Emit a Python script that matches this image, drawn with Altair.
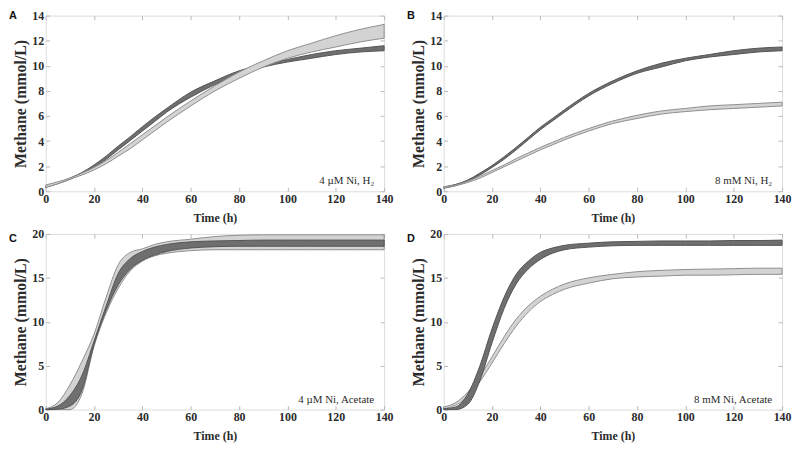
import altair as alt
import pandas as pd

times = [0, 5, 10, 15, 20, 25, 30, 35, 40, 45, 50, 60, 70, 80, 90, 100, 110, 120, 130, 140]

# Panel A: 4 uM Ni, H2
a_dark_lo = [0.3, 0.6, 0.95, 1.4, 1.9, 2.55, 3.3, 4.05, 4.8, 5.55, 6.3, 7.5, 8.5, 9.3, 9.9, 10.3, 10.6, 10.9, 11.1, 11.2]
a_dark_hi = [0.45, 0.7, 1.05, 1.5, 2.1, 2.8, 3.6, 4.35, 5.15, 5.9, 6.6, 7.9, 8.8, 9.6, 10.1, 10.5, 10.9, 11.2, 11.4, 11.6]
a_light_lo = [0.3, 0.6, 0.95, 1.3, 1.7, 2.2, 2.8, 3.4, 4.1, 4.8, 5.5, 6.8, 8.0, 9.0, 9.9, 10.6, 11.1, 11.5, 11.9, 12.2]
a_light_hi = [0.5, 0.75, 1.05, 1.45, 1.9, 2.45, 3.1, 3.8, 4.5, 5.2, 5.9, 7.2, 8.4, 9.5, 10.4, 11.2, 11.8, 12.4, 12.9, 13.3]

# Panel B: 8 mM Ni, H2
b_dark_lo = [0.25, 0.45, 0.8, 1.3, 1.9, 2.55, 3.3, 4.1, 4.9, 5.6, 6.3, 7.6, 8.6, 9.4, 9.9, 10.4, 10.7, 10.9, 11.1, 11.2]
b_dark_hi = [0.35, 0.55, 0.9, 1.45, 2.05, 2.75, 3.5, 4.3, 5.1, 5.8, 6.5, 7.8, 8.8, 9.6, 10.2, 10.6, 10.9, 11.2, 11.4, 11.5]
b_light_lo = [0.25, 0.45, 0.7, 1.05, 1.5, 1.95, 2.4, 2.85, 3.3, 3.7, 4.1, 4.8, 5.4, 5.8, 6.15, 6.35, 6.5, 6.6, 6.7, 6.8]
b_light_hi = [0.35, 0.5, 0.8, 1.2, 1.65, 2.1, 2.6, 3.05, 3.5, 3.9, 4.3, 5.0, 5.6, 6.05, 6.4, 6.6, 6.8, 6.9, 7.0, 7.1]

# Panel C: 4 uM Ni, Acetate
c_dark_lo = [0, 0.05, 0.4, 2.2, 7.4, 11.3, 14.2, 16.0, 17.0, 17.6, 18.0, 18.4, 18.55, 18.6, 18.6, 18.6, 18.6, 18.6, 18.6, 18.6]
c_dark_hi = [0.05, 0.4, 1.6, 3.9, 7.8, 11.8, 15.5, 17.2, 18.0, 18.5, 18.8, 19.1, 19.2, 19.25, 19.3, 19.3, 19.3, 19.3, 19.3, 19.3]
c_light_lo = [0, 0, 0, 1.8, 7.2, 11.0, 13.8, 15.8, 16.9, 17.5, 17.8, 18.1, 18.2, 18.2, 18.2, 18.2, 18.2, 18.2, 18.2, 18.2]
c_light_hi = [0.1, 0.8, 2.8, 5.5, 8.6, 12.8, 16.5, 17.9, 18.3, 18.8, 19.1, 19.4, 19.7, 19.85, 19.9, 19.9, 19.9, 19.9, 19.9, 19.9]

# Panel D: 8 mM Ni, Acetate
d_dark_lo = [0, 0, 0.6, 3.3, 7.6, 11.5, 14.3, 16.0, 17.1, 17.8, 18.2, 18.5, 18.65, 18.7, 18.7, 18.7, 18.7, 18.7, 18.7, 18.7]
d_dark_hi = [0.1, 0.3, 1.8, 5.0, 9.2, 12.8, 15.4, 16.9, 17.9, 18.4, 18.7, 18.95, 19.1, 19.15, 19.2, 19.2, 19.2, 19.25, 19.25, 19.3]
d_light_lo = [0.1, 0.5, 1.5, 3.2, 5.3, 7.5, 9.5, 11.1, 12.3, 13.1, 13.7, 14.4, 14.9, 15.1, 15.2, 15.3, 15.3, 15.35, 15.4, 15.4]
d_light_hi = [0.3, 0.8, 2.0, 3.8, 6.0, 8.3, 10.3, 11.8, 12.9, 13.7, 14.3, 15.0, 15.4, 15.7, 15.85, 15.95, 16.0, 16.05, 16.1, 16.1]

x_ticks = [0, 20, 40, 60, 80, 100, 120, 140]
y_ticks_h2 = [0, 2, 4, 6, 8, 10, 12, 14]
y_ticks_ac = [0, 5, 10, 15, 20]

panels = [
    dict(letter="A", label="4 µM Ni, H₂", yt=y_ticks_h2, dark=(a_dark_lo, a_dark_hi), light=(a_light_lo, a_light_hi), light_top=True, ly=3),
    dict(letter="B", label="8 mM Ni, H₂", yt=y_ticks_h2, dark=(b_dark_lo, b_dark_hi), light=(b_light_lo, b_light_hi), light_top=True, ly=3),
    dict(letter="C", label="4 µM Ni, Acetate", yt=y_ticks_ac, dark=(c_dark_lo, c_dark_hi), light=(c_light_lo, c_light_hi), light_top=False, ly=8),
    dict(letter="D", label="8 mM Ni, Acetate", yt=y_ticks_ac, dark=(d_dark_lo, d_dark_hi), light=(d_light_lo, d_light_hi), light_top=False, ly=8),
]

W, H = 341, 177
SERIF = "Liberation Serif"
TXT = "#2b2b2b"
TICK = "#b8b8b8"


def make_panel(p):
    rows = []
    for s, (lo, hi) in (("dark", p["dark"]), ("light", p["light"])):
        for t, l, h in zip(times, lo, hi):
            rows.append({"t": t, "lo": l, "hi": h, "s": s})
    df = pd.DataFrame(rows)
    yt = p["yt"]
    xs = alt.Scale(domain=[0, 140], nice=False, zero=False)
    ys = alt.Scale(domain=[yt[0], yt[-1]], nice=False, zero=False)
    base = alt.Chart(df)

    def band(s, fill, stroke):
        return base.transform_filter(alt.datum.s == s).mark_area(
            fill=fill, stroke=stroke, strokeWidth=1, interpolate="monotone", opacity=1
        ).encode(
            x=alt.X("t:Q", scale=xs, axis=None),
            y=alt.Y("lo:Q", scale=ys, axis=None),
            y2="hi:Q",
        )

    dark = band("dark", "#6f6f6f", "#545454")
    light = band("light", "#d3d3d3", "#8e8e8e")
    bands = [dark, light] if p["light_top"] else [light, dark]

    labels = base.mark_point(opacity=0).encode(
        x=alt.X("t:Q", scale=xs, axis=alt.Axis(
            orient="bottom", values=x_ticks, ticks=False, domain=False, grid=False,
            labelFont=SERIF, labelFontWeight="bold", labelFontSize=12, labelColor=TXT,
            labelPadding=2, labelFlush=False, labelOverlap=False,
            title="Time (h)", titleFont=SERIF, titleFontWeight="bold", titleFontSize=12,
            titleColor=TXT, titlePadding=8)),
        y=alt.Y("hi:Q", scale=ys, axis=alt.Axis(
            orient="left", values=yt, ticks=False, domain=False, grid=False,
            labelFont=SERIF, labelFontWeight="bold", labelFontSize=12, labelColor=TXT,
            labelPadding=2, labelFlush=False, labelOverlap=False,
            title="Methane (mmol/L)", titleFont=SERIF, titleFontWeight="bold", titleFontSize=16,
            titleColor=TXT, titlePadding=3)),
    )

    ticks_in = base.mark_point(opacity=0).encode(
        x=alt.X("t:Q", scale=xs, axis=alt.Axis(orient="bottom", values=x_ticks, labels=False, domain=False,
                                               grid=False, tickSize=4, offset=-4, tickColor=TICK, title=None)),
        y=alt.Y("hi:Q", scale=ys, axis=alt.Axis(orient="left", values=yt, labels=False, domain=False,
                                                grid=False, tickSize=4, offset=-4, tickColor=TICK, title=None)),
    )
    ticks_out = base.mark_point(opacity=0).encode(
        x=alt.X("t:Q", scale=xs, axis=alt.Axis(orient="top", values=x_ticks, labels=False, domain=False,
                                               grid=False, tickSize=4, offset=-4, tickColor=TICK, title=None)),
        y=alt.Y("hi:Q", scale=ys, axis=alt.Axis(orient="right", values=yt, labels=False, domain=False,
                                                grid=False, tickSize=4, offset=-4, tickColor=TICK, title=None)),
    )

    ann = alt.Chart(pd.DataFrame({"txt": [p["label"]]})).mark_text(
        font=SERIF, fontSize=11, color=TXT, align="right", baseline="alphabetic"
    ).encode(x=alt.value(W - 10), y=alt.value(H - 7), text="txt:N")

    letter = alt.Chart(pd.DataFrame({"txt": [p["letter"]]})).mark_text(
        font="Liberation Sans", fontWeight="bold", fontSize=11, color="#111111",
        align="left", baseline="alphabetic"
    ).encode(x=alt.value(-37), y=alt.value(p["ly"]), text="txt:N")

    return alt.layer(*bands, labels, ticks_in, ticks_out, ann, letter).resolve_axis(
        x="independent", y="independent"
    ).properties(width=W, height=H)


pa, pb, pc, pd_ = [make_panel(p) for p in panels]

chart = alt.vconcat(
    alt.hconcat(pa, pb, spacing=12),
    alt.hconcat(pc, pd_, spacing=12),
    spacing=3,
).properties(padding={"left": 0, "top": -1, "right": 0, "bottom": 0}).configure_view(
    stroke="#c8c8c8", strokeWidth=1
).configure(background="white")

chart.save("out.html", embed_options={"renderer": "svg", "actions": False})
